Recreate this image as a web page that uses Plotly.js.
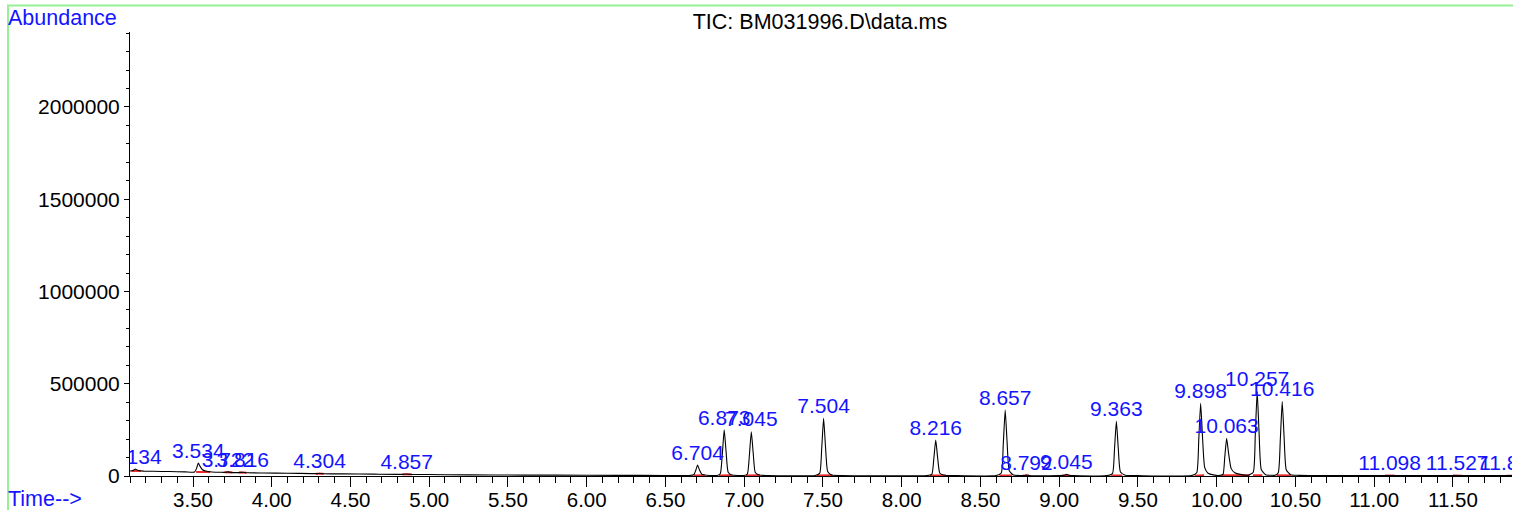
<!DOCTYPE html>
<html>
<head>
<meta charset="utf-8">
<script src="https://cdn.plot.ly/plotly-3.0.1.min.js"></script>
<style>html,body{margin:0;padding:0;background:#fff;}#chart{width:1513px;height:510px;}</style>
</head>
<body>
<div id="chart"></div>
<script>
// ---- data ----
const chartTitle = "TIC: BM031996.D\\data.ms";

// total ion chromatogram (time in min, abundance)
const signalTime = [
  3.10, 3.115, 3.125, 3.134, 3.145, 3.16, 3.19, 3.25, 3.35, 3.45, 3.51, 3.522, 3.534, 3.545, 3.56, 3.58, 3.62, 3.68,
  3.705, 3.722, 3.74, 3.79, 3.816, 3.84, 3.95, 4.10, 4.25, 4.29, 4.304, 4.32, 4.45, 4.65, 4.83, 4.857, 4.88, 5.10,
  5.40, 5.80, 6.20, 6.50, 6.65,
  6.68, 6.692, 6.704, 6.716, 6.73, 6.76, 6.80,
  6.83, 6.848, 6.861, 6.873, 6.885, 6.898, 6.92, 6.97,
  7.00, 7.02, 7.033, 7.045, 7.057, 7.07, 7.095, 7.15,
  7.45, 7.479, 7.492, 7.504, 7.516, 7.53, 7.555, 7.62,
  8.16, 8.191, 8.204, 8.216, 8.228, 8.242, 8.27, 8.33,
  8.60, 8.632, 8.645, 8.657, 8.669, 8.683, 8.71, 8.76,
  8.78, 8.792, 8.81,
  9.00, 9.03, 9.045, 9.06, 9.09,
  9.30, 9.338, 9.351, 9.363, 9.375, 9.389, 9.42, 9.50,
  9.84, 9.873, 9.886, 9.898, 9.910, 9.924, 9.945, 9.98, 10.02,
  10.04, 10.051, 10.063, 10.076, 10.092, 10.115, 10.15, 10.20,
  10.232, 10.245, 10.257, 10.269, 10.283, 10.31, 10.35,
  10.37, 10.391, 10.404, 10.416, 10.428, 10.442, 10.47, 10.52,
  10.70, 10.95, 11.098, 11.25, 11.527, 11.70, 11.866, 11.875
];
const signalAbund = [
  27000, 28000, 33000, 38000, 32000, 28000, 26500, 25500, 24000, 22500, 21500, 40000, 70000, 52000, 34000, 27000, 22000, 20000,
  20000, 22500, 19500, 18500, 20500, 17500, 16500, 15000, 13000, 12800, 14500, 12500, 11500, 10000, 9000, 10500, 9000, 7000,
  5500, 4500, 3500, 3000, 2800,
  7000, 30000, 60000, 32000, 10000, 4000, 3000,
  3000, 12000, 120000, 250000, 130000, 20000, 5000, 3000,
  3000, 11000, 115000, 240000, 125000, 19000, 5000, 3000,
  2800, 14000, 150000, 312000, 160000, 24000, 5000, 2800,
  2500, 9000, 95000, 195000, 100000, 15000, 4000, 2500,
  2500, 16000, 175000, 358000, 185000, 28000, 5000, 2500,
  2500, 5000, 2500,
  2300, 3500, 9000, 4000, 2300,
  2200, 13000, 145000, 296000, 150000, 22000, 4000, 2200,
  2000, 18000, 195000, 394000, 210000, 45000, 15000, 6000, 3500,
  9000, 100000, 204000, 120000, 40000, 18000, 9000, 4500,
  20000, 225000, 457000, 235000, 35000, 7000, 4000,
  3500, 18000, 200000, 403000, 210000, 32000, 7000, 3500,
  2500, 2000, 2500, 2000, 2300, 1800, 2000, 1800
];

// integrated peaks: label, apex time, apex abundance
const peakLabels = ["3.134", "3.534", "3.722", "3.816", "4.304", "4.857", "6.704", "6.873", "7.045", "7.504", "8.216",
  "8.657", "8.792", "9.045", "9.363", "9.898", "10.063", "10.257", "10.416", "11.098", "11.527", "11.866"];
const peakTimes = [3.134, 3.534, 3.722, 3.816, 4.304, 4.857, 6.704, 6.873, 7.045, 7.504, 8.216,
  8.657, 8.792, 9.045, 9.363, 9.898, 10.063, 10.257, 10.416, 11.098, 11.527, 11.866];
const peakApex = [38000, 70000, 22500, 20500, 14500, 10500, 60000, 250000, 240000, 312000, 195000,
  358000, 5000, 9000, 296000, 394000, 204000, 457000, 403000, 2500, 2300, 2000];

// integration baselines (start, end, level at start, level at end)
const intStart = [3.11, 3.52, 3.70, 3.79, 4.28, 4.83, 6.68, 6.84, 7.01, 7.46, 8.18, 8.62, 8.77, 9.02, 9.33, 9.86, 10.03, 10.23, 10.38, 11.07, 11.50, 11.84];
const intEnd   = [3.17, 3.61, 3.75, 3.84, 4.33, 4.89, 6.75, 6.92, 7.10, 7.56, 8.28, 8.70, 8.81, 9.07, 9.40, 9.92, 10.21, 10.29, 10.47, 11.13, 11.56, 11.875];
const intLevelStart = [27500, 21500, 20000, 18500, 12800, 9000, 2800, 3000, 3000, 2800, 2500, 2500, 2500, 2300, 2200, 2000, 3500, 4000, 3500, 2300, 2200, 1900];
const intLevelEnd   = [27500, 22000, 19500, 17500, 12500, 9000, 3500, 4000, 4000, 3500, 3000, 3000, 2500, 2300, 2800, 3500, 4200, 4000, 3500, 2300, 2000, 1800];

// axis settings
const xRange = [3.10, 11.875];
const yRange = [0, 2406000];

// ---- build traces ----
const redX = [], redY = [];
for (let i = 0; i < intStart.length; i++) {
  redX.push(intStart[i], intEnd[i], null);
  redY.push(intLevelStart[i], intLevelEnd[i], null);
}

const FONT = "Liberation Sans, Arial, sans-serif";
const BLUE = "rgb(20,20,255)";

const traces = [
  {
    x: redX, y: redY, type: "scatter", mode: "lines",
    line: {color: "rgb(235,40,40)", width: 2}, hoverinfo: "skip", connectgaps: false
  },
  {
    x: signalTime, y: signalAbund, type: "scatter", mode: "lines",
    line: {color: "black", width: 1.1, shape: "spline", smoothing: 0.5}
  },
  {
    x: peakTimes, y: peakApex, text: peakLabels, type: "scatter", mode: "text",
    textposition: "top center", cliponaxis: true,
    textfont: {family: FONT, size: 21, color: BLUE}
  }
];

const layout = {
  width: 1513, height: 510,
  margin: {l: 130, r: 1, t: 32, b: 34, pad: 0},
  paper_bgcolor: "white", plot_bgcolor: "white",
  showlegend: false,
  font: {family: FONT, size: 20.5, color: "black"},
  title: {
    text: chartTitle, x: 820 / 1513, xanchor: "center", xref: "container",
    y: 1 - 21 / 510, yanchor: "middle", yref: "container",
    font: {family: FONT, size: 21.5, color: "black"}
  },
  xaxis: {
    range: xRange, showgrid: false, zeroline: false,
    showline: true, linecolor: "black", linewidth: 1,
    ticks: "outside", ticklen: 10, tickcolor: "black", tickwidth: 1,
    tick0: 3.5, dtick: 0.5, tickformat: ".2f", ticklabelstandoff: -5,
    tickfont: {family: FONT, size: 20.5, color: "black"},
    minor: {ticks: "outside", dtick: 0.1, tick0: 3.5, ticklen: 6, tickcolor: "black", tickwidth: 1, showgrid: false}
  },
  yaxis: {
    range: yRange, showgrid: false, zeroline: false,
    showline: true, linecolor: "black", linewidth: 1,
    ticks: "outside", ticklen: 5, tickcolor: "black", tickwidth: 1,
    tick0: 0, dtick: 500000, tickformat: "d",
    tickfont: {family: FONT, size: 21, color: "black"},
    minor: {ticks: "outside", dtick: 100000, ticklen: 3, tickcolor: "black", tickwidth: 1, showgrid: false}
  },
  annotations: [
    {text: "Abundance", xref: "paper", yref: "paper", x: (6 - 130) / 1382, y: (476 - 18) / 444,
     xanchor: "left", yanchor: "middle", showarrow: false, font: {family: FONT, size: 21.5, color: BLUE}},
    {text: "Time-->", xref: "paper", yref: "paper", x: (6 - 130) / 1382, y: (476 - 499) / 444,
     xanchor: "left", yanchor: "middle", showarrow: false, font: {family: FONT, size: 21.5, color: BLUE}}
  ],
  shapes: [
    {type: "rect", xref: "paper", yref: "paper",
     x0: (8 - 130) / 1382, x1: 1.2, y0: -0.5, y1: (476 - 5.5) / 444,
     line: {color: "rgb(150,240,150)", width: 2}, fillcolor: "rgba(0,0,0,0)", layer: "below"}
  ]
};

Plotly.newPlot("chart", traces, layout, {displayModeBar: false, staticPlot: true});
</script>
</body>
</html>
